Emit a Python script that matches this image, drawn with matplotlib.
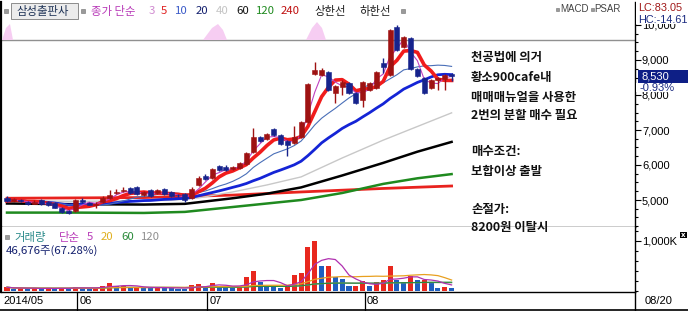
import matplotlib
matplotlib.use("Agg")
import matplotlib.pyplot as plt
import numpy as np
import pandas as pd
from matplotlib.patches import Rectangle, Polygon
from matplotlib.ticker import MultipleLocator, FixedLocator, FuncFormatter

plt.rcParams['font.family'] = ['Noto Sans CJK KR', 'DejaVu Sans']

# ---------------- data ----------------
open_ = [5050, 4960, 5010, 4940, 4900, 5000, 4940, 4920, 4770, 4680,
         4690, 5000, 4920, 4870, 4930, 5060, 5210, 5270, 5340, 5370,
         5140, 5290, 5200, 5320, 5230, 5140, 5170, 5060, 5430, 5690,
         5630, 5970, 5940, 5890, 5910, 6030, 6370, 6800, 6740, 7030,
         6860, 6690, 6630, 6800, 7230, 8600, 8570, 8660, 8060, 8230,
         8340, 8060, 7860, 8140, 8200, 8910, 8570, 9940, 9370, 9630,
         8740, 8490, 8200, 8430, 8460, 8600]
high = [5100, 5060, 5040, 4980, 4990, 5030, 4970, 4950, 4800, 4700,
        5020, 5050, 4950, 4950, 5100, 5280, 5300, 5370, 5370, 5400,
        5260, 5310, 5320, 5350, 5260, 5180, 5190, 5360, 5690, 5740,
        5920, 6000, 5990, 5980, 6090, 6370, 7060, 6830, 6920, 7060,
        6890, 6720, 7110, 7260, 8340, 8940, 8770, 8690, 8290, 8430,
        8370, 8090, 8400, 8370, 8690, 9060, 9890, 9990, 9690, 9660,
        8770, 8520, 8460, 8520, 8600, 8630]
low = [4950, 4940, 4940, 4860, 4880, 4860, 4840, 4760, 4640, 4600,
       4660, 4900, 4850, 4780, 4900, 5030, 5180, 5240, 5180, 5150,
       5110, 5090, 5180, 5150, 5090, 5080, 4950, 5040, 5400, 5570,
       5600, 5830, 5830, 5860, 5880, 6000, 6330, 6650, 6700, 6830,
       6570, 6260, 6600, 6770, 7200, 8560, 8540, 8110, 7770, 8000,
       8030, 7740, 7660, 8110, 8170, 8630, 8540, 9260, 9340, 8710,
       8510, 8030, 8170, 8140, 8140, 8400]
close = [4970, 5020, 4960, 4880, 4950, 4880, 4860, 4780, 4660, 4630,
         5000, 4940, 4870, 4890, 5060, 5140, 5240, 5300, 5200, 5170,
         5230, 5110, 5280, 5170, 5110, 5130, 5000, 5310, 5630, 5600,
         5890, 5860, 5860, 5940, 6060, 6340, 6800, 6690, 6890, 6860,
         6600, 6570, 6800, 7230, 8310, 8710, 8710, 8140, 8260, 8370,
         8060, 7770, 8370, 8340, 8660, 8800, 9860, 9290, 9660, 8740,
         8540, 8060, 8430, 8490, 8570, 8530]
volume_k = [66, 40, 45, 40, 45, 40, 45, 40, 50, 45,
            80, 45, 40, 50, 100, 150, 90, 100, 60, 65,
            50, 45, 80, 55, 45, 40, 35, 106, 140, 60,
            160, 100, 70, 55, 75, 266, 400, 166, 100, 74,
            54, 86, 320, 354, 886, 1000, 486, 490, 266, 234,
            86, 90, 186, 86, 166, 206, 486, 220, 166, 300,
            206, 220, 166, 60, 69.4, 46.7]

# long moving averages (index, value)
ma40_idx = [0, 10, 20, 24, 28, 33, 38, 43, 49, 55, 60, 65]
ma40_val = [4980, 4960, 4980, 4990, 5060, 5230, 5430, 5660, 6200, 6710, 7100, 7490]
ma60_idx = [0, 10, 20, 26, 33, 38, 43, 49, 55, 60, 65]
ma60_val = [4900, 4880, 4870, 4890, 5050, 5180, 5360, 5700, 6060, 6380, 6660]
ma120_idx = [0, 10, 20, 26, 33, 38, 43, 49, 55, 60, 65]
ma120_val = [4640, 4640, 4630, 4660, 4800, 4900, 5000, 5200, 5460, 5620, 5740]
ma240_idx = [0, 20, 33, 43, 55, 65]
ma240_val = [5050, 5070, 5140, 5230, 5330, 5400]

upper_line = 9570
last_price = "8,530"
last_change = "-0.93%"
date_labels = ["2014/05", "06", "07", "08"]
date_idx = [None, 10, 29, 52]
last_date = "08/20"

# ---------------- figure ----------------
W, H = 688, 311
fig = plt.figure(figsize=(W / 100, H / 100), dpi=100)

def rect(x0, y0, x1, y1):
    return [x0 / W, 1 - y1 / H, (x1 - x0) / W, (y1 - y0) / H]

X0, X1 = 1, 635
STEP, C0 = 6.84, 7.0
xl = ((X0 - C0) / STEP, (X1 - C0) / STEP)

ax = fig.add_axes(rect(X0, 2, X1, 227))
axv = fig.add_axes(rect(X0, 227, X1, 292))

def py2price(py):
    return 8000 + (95 - py) * 1000 / 35

ax.set_xlim(*xl)
ax.set_ylim(py2price(227), py2price(2))
vol_per_px = 1000 / 49.5
axv.set_xlim(*xl)
axv.set_ylim(-(292 - 290.5) * vol_per_px, (290.5 - 227) * vol_per_px)

o = np.array(open_, float); h = np.array(high, float)
l = np.array(low, float); c = np.array(close, float)
v = np.array(volume_k, float)
n = len(c)
idx = np.arange(n)

# moving averages
cs = pd.Series(c)
ma = {p: cs.rolling(p, min_periods=1).mean().values for p in (3, 5, 10, 20)}

ax.plot(ma240_idx, ma240_val, color='#e8231e', lw=2.0, zorder=2)
ax.plot(ma120_idx, ma120_val, color='#1f8a1f', lw=1.8, zorder=2)
ax.plot(ma60_idx, ma60_val, color='black', lw=1.8, zorder=2)
ax.plot(ma40_idx, ma40_val, color='#c8c8c8', lw=1.0, zorder=2)
ax.plot(idx, ma[20], color='#1424d6', lw=2.0, zorder=2)
ax.plot(idx, ma[10], color='#4a6fb8', lw=0.8, zorder=2)
ax.plot(idx, ma[5], color='#f01c1c', lw=2.6, zorder=2)
ax.plot(idx, ma[3], color='#c040c0', lw=0.8, zorder=2)

ax.axhline(upper_line, color='#909090', lw=1.0, zorder=1)

# candles
RED_C, BLUE_C = '#9e1212', '#16238c'
up = c >= o
cols = np.where(up, RED_C, BLUE_C)
ax.vlines(idx, l, h, colors=cols, lw=1.0, zorder=3)
body = np.maximum(np.abs(c - o), 14)
ax.bar(idx, body, bottom=np.minimum(o, c), width=0.74, color=cols,
       edgecolor=cols, lw=0.4, zorder=4)

# volume
vcols = ['#e8281e' if i == 0 or v[i] >= v[i - 1] else '#1f5fbf' for i in range(n)]
axv.bar(idx, v, width=0.74, color=vcols, zorder=2)
vs = pd.Series(v)
axv.plot(idx, vs.rolling(120, min_periods=1).mean(), color='#a0a0a0', lw=0.9, zorder=3)
axv.plot(idx, vs.rolling(60, min_periods=1).mean(), color='#2a8a3a', lw=0.9, zorder=3)
axv.plot(idx, vs.rolling(20, min_periods=1).mean(), color='#e8a020', lw=0.9, zorder=3)
axv.plot(idx, vs.rolling(5, min_periods=1).mean(), color='#b030b0', lw=0.9, zorder=3)

# axes styling
for a in (ax, axv):
    a.set_facecolor('white')
    a.spines['top'].set_visible(False)
    a.spines['left'].set_linewidth(1.6)
    a.spines['right'].set_linewidth(1.0)
    a.spines['bottom'].set_linewidth(1.0)
    a.set_xticks([])
    a.yaxis.tick_right()
    a.tick_params(axis='y', which='major', direction='out', length=4,
                  width=0.8, pad=1, labelsize=8, colors='black')
    a.tick_params(axis='y', which='minor', direction='out', length=2.5, width=0.8)

ax.yaxis.set_major_locator(FixedLocator([5000, 6000, 7000, 8000, 9000, 10000]))
ax.yaxis.set_minor_locator(MultipleLocator(250))
ax.yaxis.set_major_formatter(FuncFormatter(lambda x, p: f"{int(x):,}"))
axv.yaxis.set_major_locator(FixedLocator([1000]))
axv.yaxis.set_minor_locator(FixedLocator([0, 200, 400, 600, 800, 1200]))
axv.yaxis.set_major_formatter(FuncFormatter(lambda x, p: f"{int(x):,}K"))
for a in (ax, axv):
    for t in a.get_yticklabels():
        t.set_fontfamily('Liberation Sans')

# ---------------- overlay ----------------
ov = fig.add_axes([0, 0, 1, 1], zorder=10)
ov.set_xlim(0, W); ov.set_ylim(H, 0); ov.axis('off'); ov.patch.set_alpha(0)

# watermark tips
pink = '#f6cdf2'
for pts in ([(2, 40), (6, 28), (10, 24), (13, 40)],
            [(203, 40), (212, 28), (218, 24), (223, 30), (227, 40)],
            [(306, 40), (312, 28), (317, 22), (322, 28), (326, 40)]):
    ov.add_patch(Polygon(pts, closed=True, color=pink, lw=0, zorder=0))

def sq(x, y, s=3.5):
    ov.add_patch(Rectangle((x, y - s / 2), s, s, facecolor='#9a9a9a',
                           edgecolor='#707070', lw=0.4))

HF = 8.2
sq(4, 11)
ov.add_patch(Rectangle((11, 2.5), 67, 16, facecolor='#ececec', edgecolor='#8c8c8c', lw=0.7))
ov.text(16, 11, "삼성출판사", fontsize=HF, color='#1f3356', va='center')
sq(81, 11)
hdr = [(91, "종가 단순", '#b83ab8'), (149, "3", '#d08ad0'), (161, "5", '#e02020'),
       (175, "10", '#3a5ac8'), (196, "20", '#14206e'), (216, "40", '#c4c4c4'),
       (236, "60", '#111111'), (256, "120", '#1f8a1f'), (281, "240", '#c01010'),
       (314, "상한선", '#222222'), (359, "하한선", '#222222')]
for x, s, col in hdr:
    ov.text(x, 11, s, fontsize=HF, color=col, va='center')
sq(401, 11)

sq(556, 9, 3)
ov.text(560, 9, "MACD", fontsize=7.0, color='#444444', va='center', family='Liberation Sans')
sq(590.5, 9, 3)
ov.text(594.5, 9, "PSAR", fontsize=7.0, color='#444444', va='center', family='Liberation Sans')
ov.add_patch(Rectangle((636, 0), 52, 15, facecolor='white', edgecolor='none', zorder=5))
ov.text(638, 8, "LC:83.05", fontsize=7.8, color='#a01818', va='center',
        family='Liberation Sans', zorder=6)
ov.add_patch(Rectangle((636, 15), 52, 9, facecolor='white', edgecolor='none', zorder=5))
ov.text(638, 20, "HC:-14.61", fontsize=7.8, color='#1a2a80', va='center',
        family='Liberation Sans', zorder=6)

# last price box
ov.add_patch(Rectangle((638, 70), 50, 13, facecolor='#0e1f86', edgecolor='none', zorder=5))
ov.text(641, 76.5, last_price, fontsize=8, color='white', va='center',
        family='Liberation Sans', zorder=6)
ov.add_patch(Rectangle((636, 83), 52, 9, facecolor='white', edgecolor='none', zorder=5))
ov.text(640, 88, last_change, fontsize=8, color='#1a2a80', va='center',
        family='Liberation Sans', zorder=6)

# annotation
notes = [(57, "천공법에 의거"), (77, "황소900cafe내"), (97, "매매매뉴얼을 사용한"),
         (116, "2번의 분할 매수 필요"), (152, "매수조건:"), (172, "보합이상 출발"),
         (210, "손절가:"), (228, "8200원 이탈시")]
for y, s in notes:
    ov.text(471, y, s, fontsize=8.9, color='#111111', va='center', weight='bold')

# volume header
sq(5, 237)
ov.text(14, 237, "거래량", fontsize=HF, color='#2a8a8a', va='center')
ov.text(59, 237, "단순", fontsize=HF, color='#b83ab8', va='center')
vh = [(87, "5", '#b83ab8'), (101, "20", '#e0b020'), (121, "60", '#2a8a3a'), (141, "120", '#909090')]
for x, s, col in vh:
    ov.text(x, 237, s, fontsize=HF, color=col, va='center')
ov.text(6, 251, "46,676주(67.28%)", fontsize=HF, color='#14206e', va='center')

# close icon
ov.add_patch(Rectangle((680, 232), 7, 6, facecolor='black', edgecolor='none'))
ov.text(683.5, 235, "x", fontsize=5, color='white', ha='center', va='center',
        family='DejaVu Sans', weight='bold')

# date row
ov.plot([0, W], [309.5, 309.5], color='black', lw=1.2)
ov.plot([X1, X1], [292, 309.5], color='black', lw=1.0)
ov.text(3, 301, date_labels[0], fontsize=8, color='black', va='center', family='Liberation Sans')
for lab, i in zip(date_labels[1:], date_idx[1:]):
    xp = C0 + STEP * i + 2
    ov.plot([xp, xp], [292, 309.5], color='black', lw=0.9)
    ov.text(xp + 2, 301, lab, fontsize=8, color='black', va='center', family='Liberation Sans')
ov.text(645, 301, last_date, fontsize=8, color='black', va='center', family='Liberation Sans')

fig.savefig("out.png", dpi=100, facecolor='white')
